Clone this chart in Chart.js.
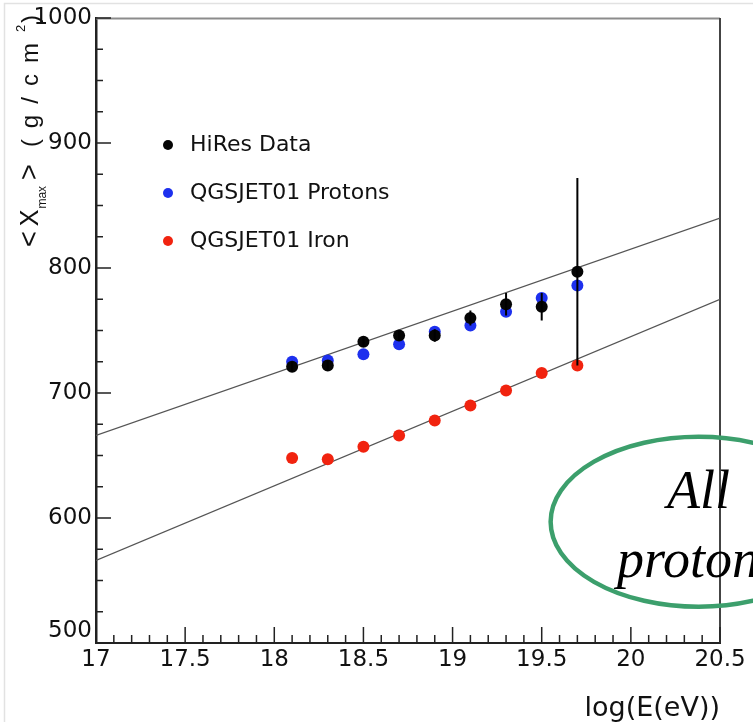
<!DOCTYPE html>
<html>
<head>
<meta charset="utf-8">
<title>Xmax vs log(E)</title>
<script src="https://cdn.jsdelivr.net/npm/chart.js@4.4.1/dist/chart.umd.min.js"></script>
<style>
  html, body { margin: 0; padding: 0; background: #fff; }
  #xmax-chart { display: block; }
</style>
</head>
<body>
<canvas id="xmax-chart" width="753" height="722"></canvas>
<script>
// energy bins, log10(E / eV)
const energyBins = [18.1, 18.3, 18.5, 18.7, 18.9, 19.1, 19.3, 19.5, 19.7];
// <Xmax> in g/cm^2
const hiresXmax = [721, 722, 741, 746, 746, 760, 771, 769, 797];
const hiresErr = [4, 4, 4, 4, 5, 6, 9, 11, 75];
const protonXmax = [725, 726, 731, 739, 749, 754, 765, 776, 786];
const ironXmax = [648, 647, 657, 666, 678, 690, 702, 716, 722];

// straight guide lines (values at the two ends of the x range)
const lineEnds = [17, 20.5];
const protonLine = [666, 840];
const ironLine = [566, 775];

const xTicks = [17, 17.5, 18, 18.5, 19, 19.5, 20, 20.5];
const yTicks = [500, 600, 700, 800, 900, 1000];

// note bubble, in data units
const noteCenter = [20.38, 597];
const noteRadii = [0.83, 68];
const noteLines = ['All', 'protons'];
const noteLineY = [608, 553];

const SANS = "'Liberation Sans', Arial, sans-serif";
const DEJAVU = "'DejaVu Sans', sans-serif";

const pts = (xs, ys) => xs.map((x, i) => ({ x: x, y: ys[i] }));

// inward ticks + top/right frame, like a ROOT pad
const frameTicks = {
  id: 'frameTicks',
  beforeDatasetsDraw(chart) {
    const { ctx, chartArea: a } = chart;
    ctx.save();
    ctx.lineWidth = 2;
    ctx.strokeStyle = '#8c8c8c';
    ctx.beginPath();
    ctx.moveTo(a.left, a.top + 0.5);
    ctx.lineTo(a.right, a.top + 0.5);
    ctx.stroke();
    ctx.strokeStyle = '#444';
    ctx.beginPath();
    ctx.moveTo(a.right, a.top);
    ctx.lineTo(a.right, a.bottom);
    ctx.stroke();
    ctx.restore();
  },
  afterDatasetsDraw(chart) {
    const { ctx, chartArea: a, scales: { x, y } } = chart;
    ctx.save();
    ctx.strokeStyle = '#222';
    ctx.lineWidth = 1.5;
    ctx.beginPath();
    const nx = Math.round((x.max - x.min) / 0.1);
    for (let i = 0; i <= nx; i++) {
      const px = x.getPixelForValue(x.min + i * 0.1);
      const len = i % 5 === 0 ? 16 : 8;
      ctx.moveTo(px, a.bottom);
      ctx.lineTo(px, a.bottom - len);
    }
    const ny = Math.round((y.max - y.min) / 25);
    for (let i = 0; i <= ny; i++) {
      const py = y.getPixelForValue(y.min + i * 25);
      const len = i % 4 === 0 ? 15 : 7;
      ctx.moveTo(a.left, py);
      ctx.lineTo(a.left + len, py);
    }
    ctx.stroke();
    ctx.restore();
  }
};

// vertical error bars on the HiRes points
const errorBars = {
  id: 'errorBars',
  afterDatasetsDraw(chart) {
    const { ctx, scales: { x, y } } = chart;
    ctx.save();
    ctx.strokeStyle = '#000';
    ctx.lineWidth = 2;
    ctx.beginPath();
    energyBins.forEach((e, i) => {
      const px = x.getPixelForValue(e);
      ctx.moveTo(px, y.getPixelForValue(hiresXmax[i] - hiresErr[i]));
      ctx.lineTo(px, y.getPixelForValue(hiresXmax[i] + hiresErr[i]));
    });
    ctx.stroke();
    ctx.restore();
  }
};

// legend inside the frame
const innerLegend = {
  id: 'innerLegend',
  afterDraw(chart) {
    const { ctx, chartArea: a } = chart;
    ctx.save();
    ctx.font = '22px ' + DEJAVU;
    ctx.textBaseline = 'middle';
    chart.data.datasets.filter(d => d.inLegend).forEach((d, i) => {
      const cx = a.left + 72;
      const cy = a.top + 127 + i * 48;
      ctx.fillStyle = d.backgroundColor;
      ctx.beginPath();
      ctx.arc(cx, cy, 5, 0, Math.PI * 2);
      ctx.fill();
      ctx.fillStyle = '#111';
      ctx.fillText(d.label, cx + 22, cy);
    });
    ctx.restore();
  }
};

// rotated y title with sub/superscripts
const yTitle = {
  id: 'yTitle',
  afterDraw(chart) {
    const { ctx } = chart;
    ctx.save();
    ctx.translate(38, 247);
    ctx.rotate(-Math.PI / 2);
    ctx.fillStyle = '#111';
    const pieces = [
      // text, size, shift, gap after, letter spacing
      ['<', 27, 0, 5, 0],
      ['X', 25, 0, 1, 0],
      ['max', 12, 8, 6, 0],
      ['>', 27, 0, 17, 0],
      ['(g/cm', 24, 0, 0, 11],
      ['2', 13, -13, 2, 0],
      [')', 24, 0, 0, 0]
    ];
    let u = 0;
    for (const [t, size, dy, gap, ls] of pieces) {
      ctx.font = size + 'px ' + SANS;
      ctx.letterSpacing = ls + 'px';
      ctx.fillText(t, u, dy);
      u += ctx.measureText(t).width + gap;
    }
    ctx.restore();
  }
};

// green note bubble
const note = {
  id: 'note',
  afterDraw(chart) {
    const { ctx, scales: { x, y } } = chart;
    const cx = x.getPixelForValue(noteCenter[0]);
    const cy = y.getPixelForValue(noteCenter[1]);
    const rx = x.getPixelForValue(noteCenter[0] + noteRadii[0]) - cx;
    const ry = cy - y.getPixelForValue(noteCenter[1] + noteRadii[1]);
    ctx.save();
    ctx.strokeStyle = '#3c9f6c';
    ctx.lineWidth = 4.5;
    ctx.beginPath();
    ctx.ellipse(cx, cy, rx, ry, 0, 0, Math.PI * 2);
    ctx.stroke();
    ctx.fillStyle = '#000';
    ctx.font = "italic 54px 'Liberation Serif', 'Times New Roman', serif";
    ctx.textAlign = 'center';
    noteLines.forEach((t, i) => ctx.fillText(t, cx, y.getPixelForValue(noteLineY[i])));
    ctx.restore();
  }
};

// faint outer border of the canvas
const outerBorder = {
  id: 'outerBorder',
  beforeDraw(chart) {
    const { ctx, width, height } = chart;
    ctx.save();
    ctx.fillStyle = '#fff';
    ctx.fillRect(0, 0, width, height);
    ctx.strokeStyle = '#e2e2e2';
    ctx.lineWidth = 1.5;
    ctx.beginPath();
    ctx.moveTo(4.5, height);
    ctx.lineTo(4.5, 3.5);
    ctx.lineTo(width, 3.5);
    ctx.stroke();
    ctx.restore();
  }
};

const pointSet = (label, data, color) => ({
  label: label,
  data: data,
  inLegend: true,
  backgroundColor: color,
  borderColor: color,
  pointRadius: 6,
  pointBorderWidth: 0,
  showLine: false
});

const lineSet = (ys) => ({
  type: 'line',
  data: pts(lineEnds, ys),
  borderColor: '#555',
  borderWidth: 1.3,
  pointRadius: 0,
  fill: false,
  order: 10
});

new Chart(document.getElementById('xmax-chart'), {
  type: 'scatter',
  data: {
    datasets: [
      pointSet('HiRes Data', pts(energyBins, hiresXmax), '#050505'),
      pointSet('QGSJET01 Protons', pts(energyBins, protonXmax), '#1d30ee'),
      pointSet('QGSJET01 Iron', pts(energyBins, ironXmax), '#f1230f'),
      lineSet(protonLine),
      lineSet(ironLine)
    ]
  },
  options: {
    responsive: false,
    animation: false,
    layout: { padding: { left: 0, right: 33, top: 18, bottom: 0 } },
    plugins: {
      legend: { display: false },
      tooltip: { enabled: false }
    },
    scales: {
      x: {
        type: 'linear',
        min: 17,
        max: 20.5,
        afterBuildTicks: s => { s.ticks = xTicks.map(v => ({ value: v })); },
        afterFit: s => { s.height = 79; },
        grid: { display: false, drawTicks: false },
        border: { display: true, color: '#222', width: 2 },
        ticks: {
          autoSkip: false,
          maxRotation: 0,
          padding: 3,
          color: '#111',
          font: { family: DEJAVU, size: 23 },
          callback: v => String(v)
        },
        title: {
          display: true,
          text: 'log(E(eV))',
          align: 'end',
          color: '#111',
          padding: 0,
          font: { family: DEJAVU, size: 27, lineHeight: 1 }
        }
      },
      y: {
        type: 'linear',
        min: 500,
        max: 1000,
        afterBuildTicks: s => { s.ticks = yTicks.map(v => ({ value: v })); },
        afterFit: s => { s.width = 96; },
        grid: { display: false, drawTicks: false },
        border: { display: true, color: '#222', width: 2.5 },
        ticks: {
          padding: 4,
          color: '#111',
          font: { family: DEJAVU, size: 23, lineHeight: 1 },
          // lift the corner label clear of the x labels
          callback: v => (v === 500 ? ['500', ''] : String(v))
        }
      }
    }
  },
  plugins: [outerBorder, frameTicks, errorBars, innerLegend, yTitle, note]
});
</script>
</body>
</html>
